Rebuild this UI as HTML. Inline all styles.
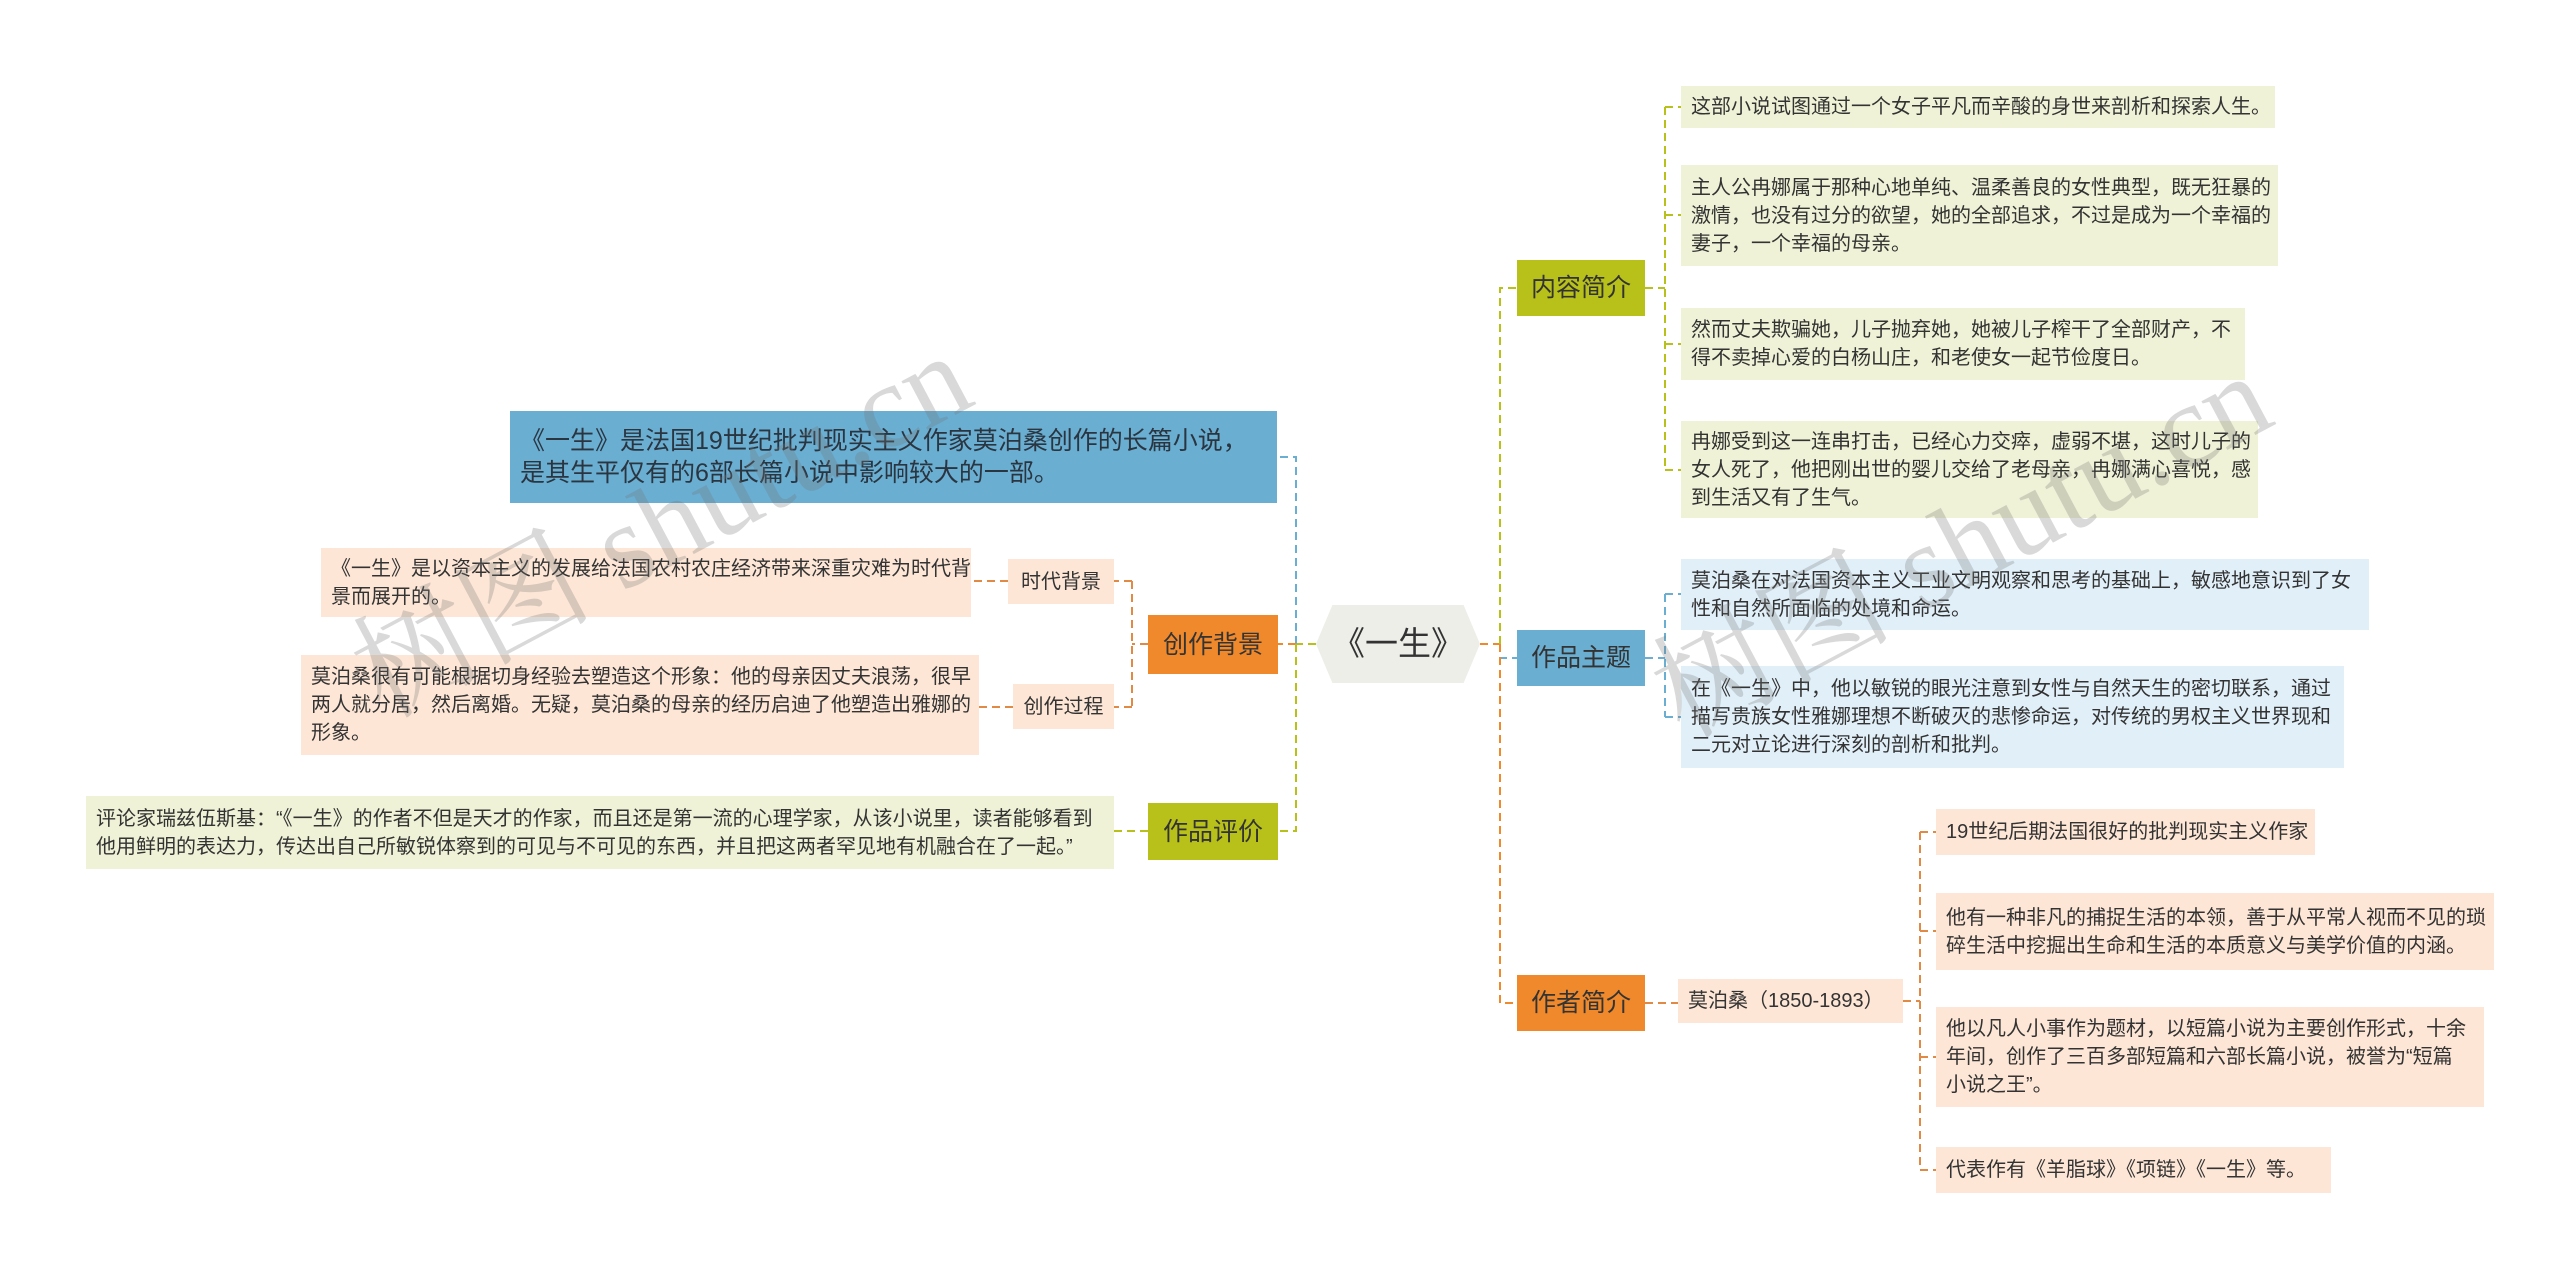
<!DOCTYPE html>
<html><head><meta charset="utf-8"><style>
body{margin:0;width:2560px;height:1269px;background:#fff;position:relative;overflow:hidden;font-family:"Liberation Sans","Noto Sans CJK SC",sans-serif;}
.b{position:absolute;box-sizing:border-box;color:#333;font-size:20px;line-height:28px;padding:0 10px;display:flex;align-items:center;white-space:nowrap;}
.g{background:#eff2d6;}.bl{background:#e1eff8;}.o{background:#fde6d6;}
.m{justify-content:center;font-size:25px;color:#333;padding:0;}
svg{position:absolute;left:0;top:0;}
.wm{position:absolute;font-family:"Liberation Serif","Noto Serif CJK SC",serif;font-size:120px;color:rgba(120,120,120,0.28);transform:rotate(-28deg);white-space:nowrap;}
</style></head><body>
<svg width="2560" height="1269">
<g fill="none" stroke-width="2" stroke-dasharray="8,5">
<path d="M1480 644 H1500" stroke="#f0892b"/>
<path d="M1500 644 V288 H1517" stroke="#b8c11a"/>
<path d="M1500 644 V658 H1517" stroke="#6aaed2"/>
<path d="M1500 644 V1003 H1517" stroke="#f0892b"/>
<path d="M1316 644 H1296" stroke="#b8c11a"/>
<path d="M1296 644 V457 H1277" stroke="#6aaed2"/>
<path d="M1296 644 H1278" stroke="#f0892b"/>
<path d="M1296 644 V831 H1278" stroke="#b8c11a"/>
<path d="M1645 288 H1665 M1665 107 V470 M1665 107 H1681 M1665 215 H1681 M1665 344 H1681 M1665 470 H1681" stroke="#b8c11a"/>
<path d="M1645 658 H1665 M1665 594 V717 M1665 594 H1681 M1665 717 H1681" stroke="#6aaed2"/>
<path d="M1645 1003 H1678 M1903 1001 H1920 M1920 832 V1170 M1920 832 H1936 M1920 931 H1936 M1920 1057 H1936 M1920 1170 H1936" stroke="#e08a45"/>
<path d="M1148 644 H1132 M1132 581 V707 M1132 581 H1114 M1132 707 H1114 M1008 581 H971 M1013 707 H979" stroke="#e08a45"/>
<path d="M1148 831 H1114" stroke="#b8c11a"/>
</g></svg>
<div class="b m" style="left:1316px;top:605px;width:164px;height:78px;background:#eeeee8;font-size:33px;clip-path:polygon(10% 0,90% 0,100% 50%,90% 100%,10% 100%,0 50%)">《一生》</div>
<div class="b m" style="left:1517px;top:260px;width:128px;height:56px;background:#b8c11a">内容简介</div>
<div class="b m" style="left:1517px;top:630px;width:128px;height:56px;background:#6aaed2">作品主题</div>
<div class="b m" style="left:1517px;top:975px;width:128px;height:56px;background:#f0892b">作者简介</div>
<div class="b m" style="left:1148px;top:615px;width:130px;height:59px;background:#f0892b">创作背景</div>
<div class="b m" style="left:1148px;top:803px;width:130px;height:57px;background:#b8c11a">作品评价</div>
<div class="b" style="left:510px;top:411px;width:767px;height:92px;background:#6aaed2;font-size:25px;line-height:32px;color:#2a3540">《一生》是法国19世纪批判现实主义作家莫泊桑创作的长篇小说，<br>是其生平仅有的6部长篇小说中影响较大的一部。</div>
<div class="b o m" style="left:1008px;top:559px;width:106px;height:45px;font-size:20px">时代背景</div>
<div class="b o m" style="left:1013px;top:684px;width:101px;height:45px;font-size:20px">创作过程</div>
<div class="b o" style="left:321px;top:548px;width:650px;height:69px">《一生》是以资本主义的发展给法国农村农庄经济带来深重灾难为时代背<br>景而展开的。</div>
<div class="b o" style="left:301px;top:655px;width:678px;height:100px">莫泊桑很有可能根据切身经验去塑造这个形象：他的母亲因丈夫浪荡，很早<br>两人就分居，然后离婚。无疑，莫泊桑的母亲的经历启迪了他塑造出雅娜的<br>形象。</div>
<div class="b g" style="left:86px;top:796px;width:1028px;height:73px">评论家瑞兹伍斯基：“《一生》的作者不但是天才的作家，而且还是第一流的心理学家，从该小说里，读者能够看到<br>他用鲜明的表达力，传达出自己所敏锐体察到的可见与不可见的东西，并且把这两者罕见地有机融合在了一起。”</div>
<div class="b g" style="left:1681px;top:86px;width:594px;height:42px">这部小说试图通过一个女子平凡而辛酸的身世来剖析和探索人生。</div>
<div class="b g" style="left:1681px;top:165px;width:597px;height:101px">主人公冉娜属于那种心地单纯、温柔善良的女性典型，既无狂暴的<br>激情，也没有过分的欲望，她的全部追求，不过是成为一个幸福的<br>妻子，一个幸福的母亲。</div>
<div class="b g" style="left:1681px;top:308px;width:564px;height:72px">然而丈夫欺骗她，儿子抛弃她，她被儿子榨干了全部财产，不<br>得不卖掉心爱的白杨山庄，和老使女一起节俭度日。</div>
<div class="b g" style="left:1681px;top:421px;width:577px;height:97px">冉娜受到这一连串打击，已经心力交瘁，虚弱不堪，这时儿子的<br>女人死了，他把刚出世的婴儿交给了老母亲，冉娜满心喜悦，感<br>到生活又有了生气。</div>
<div class="b bl" style="left:1681px;top:559px;width:688px;height:71px">莫泊桑在对法国资本主义工业文明观察和思考的基础上，敏感地意识到了女<br>性和自然所面临的处境和命运。</div>
<div class="b bl" style="left:1681px;top:666px;width:663px;height:102px">在《一生》中，他以敏锐的眼光注意到女性与自然天生的密切联系，通过<br>描写贵族女性雅娜理想不断破灭的悲惨命运，对传统的男权主义世界现和<br>二元对立论进行深刻的剖析和批判。</div>
<div class="b o" style="left:1678px;top:979px;width:225px;height:44px">莫泊桑（1850-1893）</div>
<div class="b o" style="left:1936px;top:809px;width:379px;height:46px">19世纪后期法国很好的批判现实主义作家</div>
<div class="b o" style="left:1936px;top:893px;width:558px;height:77px">他有一种非凡的捕捉生活的本领，善于从平常人视而不见的琐<br>碎生活中挖掘出生命和生活的本质意义与美学价值的内涵。</div>
<div class="b o" style="left:1936px;top:1007px;width:548px;height:100px">他以凡人小事作为题材，以短篇小说为主要创作形式，十余<br>年间，创作了三百多部短篇和六部长篇小说，被誉为“短篇<br>小说之王”。</div>
<div class="b o" style="left:1936px;top:1147px;width:395px;height:46px">代表作有《羊脂球》《项链》《一生》等。</div>
<div class="wm" style="left:320px;top:430px">树图 shutu.cn</div>
<div class="wm" style="left:1620px;top:450px">树图 shutu.cn</div>
</body></html>
